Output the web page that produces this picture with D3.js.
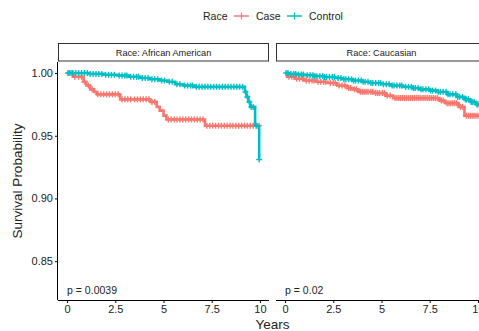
<!DOCTYPE html>
<html>
<head>
<meta charset="utf-8">
<script src="https://cdn.jsdelivr.net/npm/d3@7"></script>
<style>
  html, body { margin: 0; padding: 0; background: #fff; }
  svg { display: block; font-family: "Liberation Sans", Arial, sans-serif; }
</style>
</head>
<body>
<svg id="chart" width="479" height="331"></svg>
<script>
// ---------------- data ----------------
const panels = ["Race: African American", "Race: Caucasian"];
const groups = ["Case", "Control"];
const groupColors = ["#F8766D", "#00BFC4"];
const pValues = ["p = 0.0039", "p = 0.02"];
const xTicks = [0, 2.5, 5, 7.5, 10];
const xTickLabels = ["0", "2.5", "5", "7.5", "10"];
const yTicks = [0.85, 0.90, 0.95, 1.00];
const yTickLabels = ["0.85", "0.90", "0.95", "1.00"];

// African American - Case
const aaCaseTimes = [0, 0.3, 0.85, 1.0, 1.2, 1.4, 1.55, 2.75, 4.3, 4.65, 4.8, 5.0, 5.15, 7.15];
const aaCaseSurv  = [1.000, 0.997, 0.993, 0.990, 0.987, 0.985, 0.983, 0.979, 0.977, 0.973, 0.970, 0.966, 0.963, 0.958];
const aaCaseEnd = 9.97;
const aaCaseCensor = [0.1, 0.25, 0.4, 0.6, 0.75, 0.9, 1.1, 1.3, 1.6, 1.75, 1.9, 2.05, 2.2, 2.35, 2.5, 2.65, 2.85, 3.0, 3.15, 3.3, 3.5, 3.65, 3.8, 3.95, 4.1, 4.25, 4.4, 4.55, 5.25, 5.4, 5.55, 5.7, 5.85, 6.0, 6.15, 6.3, 6.45, 6.6, 6.75, 6.9, 7.05, 7.25, 7.4, 7.55, 7.7, 7.85, 8.0, 8.15, 8.3, 8.45, 8.6, 8.75, 8.9, 9.05, 9.2, 9.35, 9.5, 9.65, 9.8, 9.95];

// African American - Control
const aaCtrlTimes = [0, 1.1, 1.9, 2.6, 3.2, 3.8, 4.3, 4.8, 5.2, 5.6, 6.0, 6.6, 9.22, 9.3, 9.4, 9.5, 9.75, 9.96];
const aaCtrlSurv  = [1.000, 0.9993, 0.9986, 0.998, 0.997, 0.996, 0.995, 0.994, 0.993, 0.991, 0.990, 0.989, 0.985, 0.981, 0.977, 0.973, 0.958, 0.931];
const aaCtrlEnd = 9.96;
const aaCtrlCensor = [0.05, 0.15, 0.3, 0.45, 0.6, 0.75, 0.9, 1.05, 1.2, 1.35, 1.5, 1.65, 1.8, 2.0, 2.15, 2.3, 2.45, 2.7, 2.85, 3.0, 3.1, 3.3, 3.45, 3.6, 3.7, 3.9, 4.05, 4.2, 4.4, 4.55, 4.7, 4.9, 5.05, 5.3, 5.45, 5.7, 5.85, 6.1, 6.25, 6.4, 6.5, 6.7, 6.85, 7.0, 7.15, 7.3, 7.45, 7.6, 7.75, 7.9, 8.05, 8.2, 8.35, 8.5, 8.65, 8.8, 8.95, 9.1, 9.25, 9.35, 9.45, 9.55, 9.65, 9.85, 9.96];

// Caucasian - Case
const caCaseTimes = [0, 0.1, 0.5, 1.0, 1.6, 2.2, 2.7, 3.2, 3.5, 3.8, 4.6, 5.2, 5.6, 8.0, 8.3, 9.0, 9.3];
const caCaseSurv  = [1.000, 0.997, 0.9955, 0.994, 0.993, 0.992, 0.990, 0.988, 0.987, 0.985, 0.984, 0.982, 0.980, 0.978, 0.976, 0.973, 0.966];
const caCaseEnd = 10.3;
const caCaseCensor = [0.2, 0.35, 0.6, 0.75, 0.9, 1.1, 1.25, 1.4, 1.5, 1.7, 1.85, 2.0, 2.1, 2.35, 2.5, 2.6, 2.8, 2.95, 3.1, 3.3, 3.4, 3.6, 3.7, 3.9, 4.0, 4.1, 4.2, 4.3, 4.45, 4.55, 4.7, 4.8, 4.9, 5.05, 5.15, 5.3, 5.45, 5.7, 5.8, 5.9, 6.0, 6.1, 6.2, 6.3, 6.4, 6.5, 6.6, 6.7, 6.8, 6.9, 7.0, 7.1, 7.2, 7.3, 7.4, 7.5, 7.6, 7.7, 7.8, 7.9, 8.1, 8.2, 8.4, 8.5, 8.6, 8.7, 8.8, 8.9, 9.1, 9.2, 9.4, 9.5, 9.6, 9.7, 9.8, 9.9, 10.0, 10.1, 10.2];

// Caucasian - Control
const caCtrlTimes = [0, 0.2, 0.6, 1.0, 1.5, 2.0, 2.6, 3.0, 3.5, 4.0, 4.4, 5.0, 5.5, 6.1, 6.6, 7.0, 7.5, 7.9, 8.4, 8.9, 9.3, 9.6, 9.9, 10.2];
const caCtrlSurv  = [1.000, 0.9993, 0.9988, 0.9983, 0.9975, 0.9968, 0.996, 0.995, 0.994, 0.993, 0.992, 0.991, 0.990, 0.989, 0.988, 0.987, 0.986, 0.985, 0.983, 0.981, 0.979, 0.977, 0.975, 0.973];
const caCtrlEnd = 10.4;
const caCtrlCensor = [0.05, 0.15, 0.3, 0.45, 0.55, 0.7, 0.85, 0.95, 1.15, 1.3, 1.45, 1.55, 1.65, 1.8, 1.95, 2.05, 2.15, 2.3, 2.45, 2.55, 2.75, 2.9, 3.05, 3.15, 3.3, 3.45, 3.55, 3.65, 3.8, 3.95, 4.05, 4.15, 4.3, 4.45, 4.55, 4.7, 4.85, 4.95, 5.1, 5.25, 5.4, 5.55, 5.65, 5.8, 5.95, 6.05, 6.25, 6.4, 6.55, 6.65, 6.75, 6.9, 7.05, 7.15, 7.3, 7.45, 7.55, 7.65, 7.8, 7.95, 8.05, 8.2, 8.35, 8.45, 8.55, 8.7, 8.85, 8.95, 9.05, 9.2, 9.35, 9.4, 9.5, 9.65, 9.7, 9.8, 9.95, 10.0, 10.1, 10.25, 10.3, 10.4];

const curves = [
  [ {t: aaCaseTimes, s: aaCaseSurv, end: aaCaseEnd, c: aaCaseCensor},
    {t: aaCtrlTimes, s: aaCtrlSurv, end: aaCtrlEnd, c: aaCtrlCensor} ],
  [ {t: caCaseTimes, s: caCaseSurv, end: caCaseEnd, c: caCaseCensor},
    {t: caCtrlTimes, s: caCtrlSurv, end: caCtrlEnd, c: caCtrlCensor} ]
];

// ---------------- layout ----------------
const svg = d3.select("#chart");
const panelLeft = [58, 276];
const panelWidth = 211;
const panelTop = 62, panelBottom = 300;
const stripTop = 43, stripBottom = 61.5;

const y = d3.scaleLinear().domain([0.819, 1.0088]).range([panelBottom, panelTop]);

function survAt(d, t) {
  let v = d.s[0];
  for (let i = 0; i < d.t.length; i++) { if (d.t[i] <= t) v = d.s[i]; }
  return v;
}

// legend
const lg = svg.append("g").attr("font-size", 10.5).attr("fill", "#222");
lg.append("text").attr("x", 203).attr("y", 20).text("Race");
const legItems = [{x: 234, tx: 256}, {x: 287, tx: 309}];
legItems.forEach((li, i) => {
  lg.append("line").attr("x1", li.x).attr("x2", li.x + 15).attr("y1", 16).attr("y2", 16)
    .attr("stroke", groupColors[i]).attr("stroke-width", 1.5);
  lg.append("line").attr("x1", li.x + 7.5).attr("x2", li.x + 7.5).attr("y1", 12.5).attr("y2", 19.5)
    .attr("stroke", groupColors[i]).attr("stroke-width", 1.2);
  lg.append("text").attr("x", li.tx).attr("y", 20).text(groups[i]);
});

panels.forEach((name, p) => {
  const x = d3.scaleLinear().domain([-0.47, 10.47]).range([panelLeft[p], panelLeft[p] + panelWidth]);
  const g = svg.append("g");

  // strip
  g.append("rect").attr("x", panelLeft[p] + 0.5).attr("y", stripTop + 0.5)
    .attr("width", panelWidth - 1).attr("height", stripBottom - stripTop - 1)
    .attr("fill", "#fff").attr("stroke", "#333").attr("stroke-width", 1);
  g.append("text").attr("x", panelLeft[p] + panelWidth / 2).attr("y", 55.5)
    .attr("text-anchor", "middle").attr("font-size", 9.2).attr("fill", "#1a1a1a").text(name);

  // curves
  const clipId = "clip" + p;
  svg.append("clipPath").attr("id", clipId).append("rect")
    .attr("x", panelLeft[p]).attr("y", panelTop - 5).attr("width", panelWidth).attr("height", panelBottom - panelTop + 5);
  const cg = g.append("g").attr("clip-path", `url(#${clipId})`);

  curves[p].forEach((d, gi) => {
    const pts = d.t.map((t, i) => [t, d.s[i]]);
    pts.push([d.end, d.s[d.s.length - 1]]);
    const line = d3.line().x(v => x(v[0])).y(v => y(v[1])).curve(d3.curveStepAfter);
    cg.append("path").attr("d", line(pts)).attr("fill", "none")
      .attr("stroke", groupColors[gi]).attr("stroke-width", 2.6);
    const cs = cg.append("g").attr("stroke", groupColors[gi]).attr("stroke-width", 1.4);
    d.c.forEach(ct => {
      const cx = x(ct), cy = y(survAt(d, ct));
      cs.append("line").attr("x1", cx - 3).attr("x2", cx + 3).attr("y1", cy).attr("y2", cy);
      cs.append("line").attr("x1", cx).attr("x2", cx).attr("y1", cy - 3).attr("y2", cy + 3);
    });
  });

  // x axis
  const xa = g.append("g").attr("transform", `translate(0,${panelBottom})`)
    .call(d3.axisBottom(x).tickValues(xTicks).tickFormat((d, i) => xTickLabels[i]).tickSize(3).tickPadding(2));
  xa.select(".domain").attr("stroke", "#000").attr("stroke-width", 1)
    .attr("d", `M${panelLeft[p]},0.5H${panelLeft[p] + panelWidth}`);
  xa.selectAll(".tick line").attr("stroke", "#000");
  xa.selectAll(".tick text").attr("font-size", 11).attr("fill", "#222")
    .attr("font-family", "Liberation Sans, Arial, sans-serif");

  // y axis only on first panel
  if (p === 0) {
    const ya = g.append("g").attr("transform", `translate(${panelLeft[p]},0)`)
      .call(d3.axisLeft(y).tickValues(yTicks).tickFormat((d, i) => yTickLabels[i]).tickSize(3).tickPadding(2));
    ya.select(".domain").attr("stroke", "#000").attr("stroke-width", 1)
      .attr("d", `M-0.5,${panelTop}V${panelBottom}`);
    ya.selectAll(".tick line").attr("stroke", "#000");
    ya.selectAll(".tick text").attr("font-size", 11).attr("fill", "#222")
      .attr("font-family", "Liberation Sans, Arial, sans-serif");
  }

  // p-value
  g.append("text").attr("x", x(0)).attr("y", 294).attr("font-size", 10.5).attr("fill", "#222").text(pValues[p]);
});

// axis titles
svg.append("text").attr("x", 272.5).attr("y", 329).attr("text-anchor", "middle")
  .attr("font-size", 13.5).attr("fill", "#222").text("Years");
svg.append("text").attr("transform", "translate(22,181) rotate(-90)").attr("text-anchor", "middle")
  .attr("font-size", 13.5).attr("fill", "#222").text("Survival Probability");
</script>
</body>
</html>
